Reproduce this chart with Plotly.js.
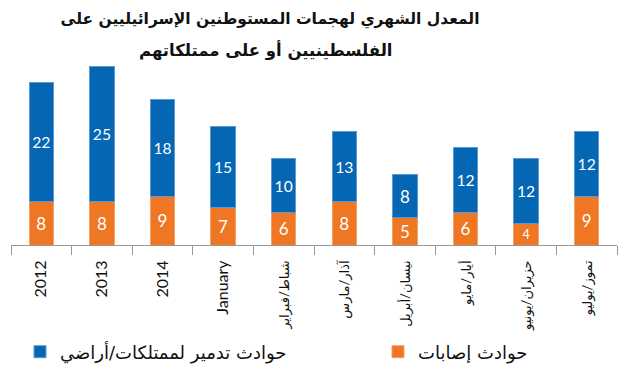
<!DOCTYPE html>
<html>
<head>
<meta charset="utf-8">
<script src="https://cdn.plot.ly/plotly-3.0.1.min.js"></script>
<style>html,body{margin:0;padding:0;background:#fff;}#chart{width:627px;height:369px;}</style>
</head>
<body>
<div id="chart"></div>
<script>
const categories = ["2012", "2013", "2014", "January", "شباط/فبراير", "آذار/مارس", "نيسان/أبريل", "أيار/مايو", "حزيران/يونيو", "تموز/يوليو"];
const injuries = [8, 8, 9, 7, 6, 8, 5, 6, 4, 9];
const damage = [22, 25, 18, 15, 10, 13, 8, 12, 12, 12];
const seriesNames = ["حوادث إصابات", "حوادث تدمير لممتلكات/أراضي"];
const titleLine1 = "المعدل الشهري لهجمات المستوطنين الإسرائيليين على";
const titleLine2 = "الفلسطينيين أو على ممتلكاتهم";

const tickText = categories.map((c, i) => i < 4 ? c : '<span style="font-size:13px">' + c + '</span>');

const common = {
  type: 'bar',
  x: categories,
  texttemplate: '%{y}',
  textposition: 'inside',
  insidetextanchor: 'middle',
  textangle: 0,
  textfont: {family: 'Lato, "DejaVu Sans", sans-serif', size: 17, color: '#ffffff'},
  hoverinfo: 'skip'
};

const traces = [
  Object.assign({}, common, {
    name: seriesNames[0], y: injuries, legend: 'legend2',
    marker: {color: '#EF7622', line: {color: '#F4A066', width: 1}}
  }),
  Object.assign({}, common, {
    name: seriesNames[1], y: damage, legend: 'legend',
    marker: {color: '#0566B3', line: {color: '#5A9AD6', width: 1}}
  })
];

const legendFont = {family: '"DejaVu Sans", sans-serif', size: 18, color: '#111111'};

const layout = {
  width: 627, height: 369,
  margin: {l: 11, r: 10, t: 64, b: 124},
  paper_bgcolor: '#ffffff', plot_bgcolor: '#ffffff',
  barmode: 'stack',
  bargap: 0.6,
  showlegend: true,
  title: {
    text: '<b>' + titleLine1 + '</b>',
    font: {family: '"DejaVu Sans", sans-serif', size: 15.5, color: '#111111'},
    xref: 'container', yref: 'container',
    x: 270 / 627, xanchor: 'center',
    y: 1 - 19 / 369, yanchor: 'middle'
  },
  annotations: [{
    text: '<b>' + titleLine2 + '</b>',
    font: {family: '"DejaVu Sans", sans-serif', size: 16.5, color: '#111111'},
    xref: 'paper', yref: 'paper',
    x: (266 - 11) / 606, xanchor: 'center',
    y: 1 + (64 - 50) / 181, yanchor: 'middle',
    showarrow: false
  }],
  xaxis: {
    type: 'category',
    tickvals: categories,
    ticktext: tickText,
    tickangle: -90,
    ticklabelstandoff: 8,
    tickfont: {family: 'Lato, "DejaVu Sans", sans-serif', size: 16, color: '#111111'},
    showline: true, linecolor: '#999999', linewidth: 1,
    ticks: 'outside', ticklen: 9, tickcolor: '#999999', tickwidth: 1,
    tickson: 'boundaries',
    showgrid: false, zeroline: false, fixedrange: true
  },
  yaxis: {
    visible: false, range: [0, 33.5], showgrid: false, zeroline: false, fixedrange: true
  },
  legend: {
    orientation: 'h',
    x: 20 / 627, xref: 'container', xanchor: 'left',
    y: 1 - 352 / 369, yref: 'container', yanchor: 'middle',
    font: legendFont,
    bgcolor: 'rgba(0,0,0,0)'
  },
  legend2: {
    orientation: 'h',
    x: 378 / 627, xref: 'container', xanchor: 'left',
    y: 1 - 352 / 369, yref: 'container', yanchor: 'middle',
    font: legendFont,
    bgcolor: 'rgba(0,0,0,0)'
  }
};

Plotly.newPlot('chart', traces, layout, {displayModeBar: false, staticPlot: true});
</script>
</body>
</html>
